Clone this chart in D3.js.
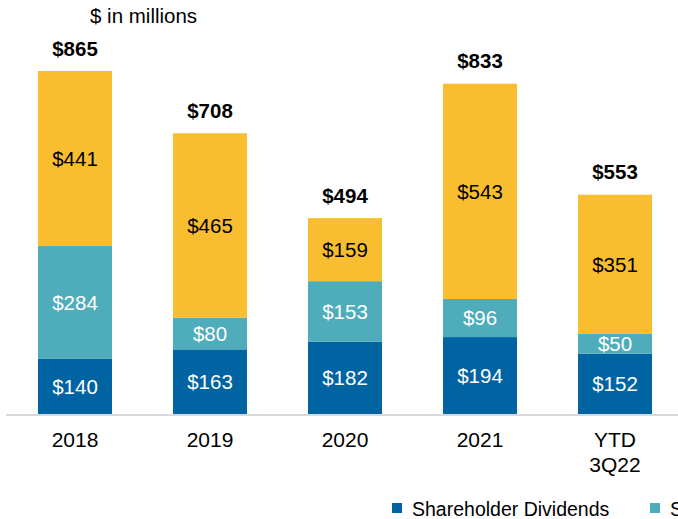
<!DOCTYPE html>
<html>
<head>
<meta charset="utf-8">
<script src="https://cdn.jsdelivr.net/npm/d3@7"></script>
<style>
  body { margin: 0; background: #fff; }
  text { font-family: "Liberation Sans", Arial, sans-serif; }
</style>
</head>
<body>
<svg width="678" height="519"></svg>
<script>
let categories = ["2018", "2019", "2020", "2021", "YTD\n3Q22"]
let dividends = [140, 163, 182, 194, 152]
let repurchases = [284, 80, 153, 96, 50]
let debt = [441, 465, 159, 543, 351]
let series_names = ["Shareholder Dividends", "Share Repurchases", "Debt Repayment"]
let colors = ["#0064a3", "#4eacbb", "#f8be2f"]
let label_colors = ["#fff", "#fff", "#000"]

let svg = d3.select("svg")
let baseline = 414

let x = d3.scaleBand()
  .domain(categories)
  .range([7.5, 682.5])
  .paddingInner(0.452)
  .paddingOuter(0.226)

let y = d3.scaleLinear()
  .domain([0, 865])
  .range([baseline, 71])

let rows = categories.map((c, i) => ({
  cat: c,
  s0: dividends[i],
  s1: repurchases[i],
  s2: debt[i],
  total: dividends[i] + repurchases[i] + debt[i]
}))

let stack = d3.stack().keys(["s0", "s1", "s2"])(rows)

// title
svg.append("text")
  .attr("x", 90).attr("y", 23)
  .attr("font-size", 20.5)
  .attr("fill", "#000")
  .text("$ in millions")

// bars
stack.forEach((layer, k) => {
  let g = svg.append("g")
  g.selectAll("rect")
    .data(layer)
    .enter()
    .append("rect")
    .attr("x", d => x(d.data.cat))
    .attr("width", x.bandwidth())
    .attr("y", d => y(d[1]))
    .attr("height", d => y(d[0]) - y(d[1]))
    .attr("fill", colors[k])

  g.selectAll("text")
    .data(layer)
    .enter()
    .append("text")
    .attr("x", d => x(d.data.cat) + x.bandwidth() / 2)
    .attr("y", d => (y(d[0]) + y(d[1])) / 2)
    .attr("dy", "0.36em")
    .attr("text-anchor", "middle")
    .attr("font-size", 20.5)
    .attr("fill", label_colors[k])
    .text(d => "$" + (d[1] - d[0]))
})

// totals
svg.append("g").selectAll("text")
  .data(rows)
  .enter()
  .append("text")
  .attr("x", d => x(d.cat) + x.bandwidth() / 2)
  .attr("y", d => y(d.total) - 15.5)
  .attr("text-anchor", "middle")
  .attr("font-size", 20.5)
  .attr("font-weight", "bold")
  .attr("fill", "#000")
  .text(d => "$" + d.total)

// axis line
svg.append("line")
  .attr("x1", 6).attr("x2", 678)
  .attr("y1", baseline + 1).attr("y2", baseline + 1)
  .attr("stroke", "#d9d9d9")
  .attr("stroke-width", 2)

// category labels
let cat_labels = svg.append("g").selectAll("text")
  .data(categories)
  .enter()
  .append("text")
  .attr("x", d => x(d) + x.bandwidth() / 2)
  .attr("y", 447)
  .attr("text-anchor", "middle")
  .attr("font-size", 21)
  .attr("fill", "#000")

cat_labels.selectAll("tspan")
  .data(d => d.split("\n"))
  .enter()
  .append("tspan")
  .attr("x", function() { return d3.select(this.parentNode).attr("x") })
  .attr("dy", (d, i) => i == 0 ? 0 : 25)
  .text(d => d)

// legend (cut off at the right edge, as in the source slide)
let legend_x = [392, 650, 880]
series_names.forEach((name, k) => {
  svg.append("rect")
    .attr("x", legend_x[k]).attr("y", 503)
    .attr("width", 10).attr("height", 10)
    .attr("fill", colors[k])
  svg.append("text")
    .attr("x", legend_x[k] + 20).attr("y", 516)
    .attr("font-size", 19.5)
    .attr("fill", "#000")
    .text(name)
})
</script>
</body>
</html>
